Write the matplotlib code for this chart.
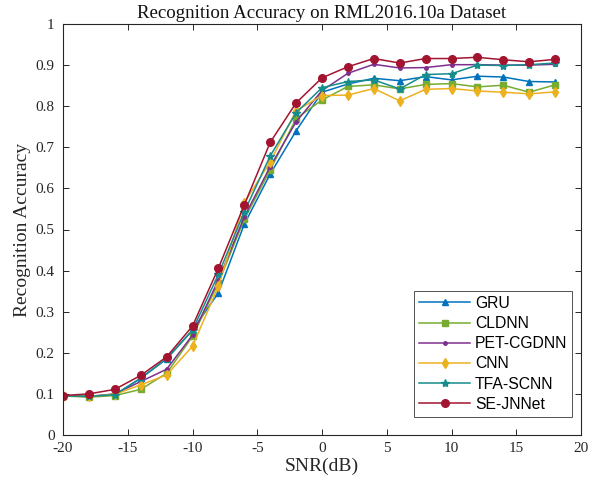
import matplotlib
matplotlib.use("Agg")
import matplotlib.pyplot as plt

snr = [-20, -18, -16, -14, -12, -10, -8, -6, -4, -2, 0, 2, 4, 6, 8, 10, 12, 14, 16, 18]

gru = [0.095, 0.094, 0.098, 0.138, 0.185, 0.255, 0.346, 0.513, 0.635, 0.740,
       0.834, 0.854, 0.868, 0.862, 0.872, 0.864, 0.873, 0.871, 0.860, 0.859]
cldnn = [0.095, 0.092, 0.096, 0.111, 0.150, 0.240, 0.370, 0.525, 0.645, 0.770,
         0.815, 0.848, 0.852, 0.842, 0.853, 0.855, 0.847, 0.851, 0.834, 0.852]
pet_cgdnn = [0.095, 0.094, 0.100, 0.130, 0.160, 0.243, 0.377, 0.531, 0.653, 0.762,
             0.838, 0.880, 0.902, 0.893, 0.894, 0.901, 0.901, 0.900, 0.900, 0.902]
cnn = [0.095, 0.094, 0.099, 0.122, 0.146, 0.216, 0.362, 0.565, 0.665, 0.789,
       0.826, 0.827, 0.843, 0.813, 0.841, 0.843, 0.837, 0.834, 0.830, 0.835]
tfa_scnn = [0.095, 0.094, 0.098, 0.138, 0.186, 0.255, 0.391, 0.543, 0.679, 0.784,
            0.845, 0.860, 0.864, 0.842, 0.877, 0.879, 0.900, 0.899, 0.901, 0.905]
se_jnnet = [0.096, 0.100, 0.111, 0.145, 0.190, 0.265, 0.406, 0.560, 0.712, 0.808,
            0.869, 0.896, 0.916, 0.905, 0.916, 0.916, 0.919, 0.913, 0.908, 0.914]

labels = ["GRU", "CLDNN", "PET-CGDNN", "CNN", "TFA-SCNN", "SE-JNNet"]
xticks = [-20, -15, -10, -5, 0, 5, 10, 15, 20]
yticks = [0, 0.1, 0.2, 0.3, 0.4, 0.5, 0.6, 0.7, 0.8, 0.9, 1]
ytick_labels = ["0", "0.1", "0.2", "0.3", "0.4", "0.5", "0.6", "0.7", "0.8", "0.9", "1"]

series = [gru, cldnn, pet_cgdnn, cnn, tfa_scnn, se_jnnet]
colors = ["#0072BD", "#77AC30", "#7E2F8E", "#EDB120", "#168C8C", "#A2142F"]
markers = ["^", "s", ".", "d", "*", "o"]
msizes = [5, 4.5, 5, 5, 6, 5.5]

fig = plt.figure(figsize=(6.03, 4.84), dpi=100)
ax = fig.add_axes([63/603, 49/484, 518/603, 411/484])

for y, lab, c, m, ms in zip(series, labels, colors, markers, msizes):
    ax.plot(snr, y, color=c, marker=m, markersize=ms, linewidth=1.1, label=lab,
            markerfacecolor=c, markeredgecolor=c)

serif = "Liberation Serif"
ax.set_xlim(-20, 20)
ax.set_ylim(0, 1)
ax.set_xticks(xticks)
ax.set_xticklabels([str(t) for t in xticks], fontfamily=serif, fontsize=11)
ax.set_yticks(yticks)
ax.set_yticklabels(ytick_labels, fontfamily=serif, fontsize=11)
ax.tick_params(direction="in", top=True, right=True, length=4, width=0.7,
               colors="#262626", labelcolor="#262626")
ax.tick_params(axis="y", pad=6)
ax.tick_params(axis="x", pad=5)
for s in ax.spines.values():
    s.set_linewidth(0.8)
    s.set_color("#262626")

ax.set_xlabel("SNR(dB)", fontfamily=serif, fontsize=14, color="#262626", labelpad=2)
ax.set_ylabel("Recognition Accuracy", fontfamily=serif, fontsize=14, color="#262626", labelpad=3)
ax.set_title("Recognition Accuracy on RML2016.10a Dataset", fontfamily=serif,
             fontsize=13.6, color="#111111", pad=4)

leg = ax.legend(loc="lower right", bbox_to_anchor=(0.983, 0.045), fancybox=False,
                prop={"family": "Liberation Sans", "size": 11.3}, handlelength=3.3,
                borderaxespad=0, labelspacing=0.33, handletextpad=0.3, borderpad=0.3)
leg.get_frame().set_edgecolor("#262626")
leg.get_frame().set_linewidth(0.7)

fig.savefig("out.png", dpi=100)
